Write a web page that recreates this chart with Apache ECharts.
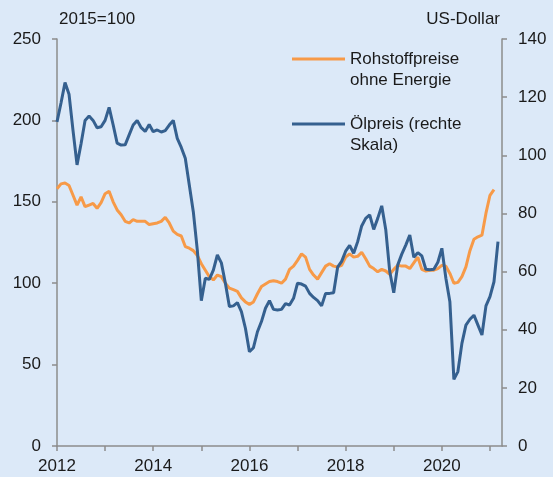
<!DOCTYPE html>
<html>
<head>
<meta charset="utf-8">
<script src="https://cdn.jsdelivr.net/npm/echarts@6/dist/echarts.min.js"></script>
<style>
  html, body { margin: 0; padding: 0; background: #dce9f8; }
  #chart { width: 553px; height: 477px; }
</style>
</head>
<body>
<div id="chart"></div>
<script>
// monthly values from Jan 2012
var startYear = 2012;

// Rohstoffpreise ohne Energie, 2015=100 (Jan 2012 - Feb 2021)
var rohstoffe = [
  158, 161, 161.5, 160, 154, 148, 153, 147, 148, 149, 146, 149.5,
  155, 156.5, 150, 145, 142, 138, 137, 139, 138, 138, 138, 136,
  136.5, 137, 138, 140.5, 137, 132, 130, 129, 122.5, 121.5, 120, 117,
  112, 108, 104, 102, 105, 104, 100, 97, 96, 95, 91, 88.5,
  87, 88.5, 93.5, 98, 99.5, 101, 101.5, 101, 100, 102.5, 108.5, 110.5,
  114, 118, 116, 108.5, 105, 102.5, 106.5, 110.5, 112, 110.5, 110, 111,
  116, 118, 116, 116.5, 119, 115, 110.5, 109, 107, 108.5, 107.5, 105.5,
  108.5, 111, 110.5, 110.5, 109, 112.5, 116, 108.5, 107.5, 108, 108, 109,
  111, 110.5, 106, 100, 100.5, 104, 110, 120, 127, 128.5, 129.5, 143,
  154, 157.5
];

// Oelpreis in US-Dollar (Jan 2012 - Mar 2021)
var oelpreis = [
  111.5, 118, 125, 121, 108.5, 96.7, 104, 112, 113.5, 112, 109.5, 109.8,
  112, 116.5, 110.5, 104.2, 103.5, 103.6, 107, 110.4, 112, 109.5, 108.2, 110.6,
  108.1, 108.7, 108, 108.5, 110.4, 112, 105.8, 102.7, 99, 89.8, 80.6, 67.4,
  50, 57.7, 57.3, 60.5, 65.7, 63, 56, 48, 48.2, 49.3, 46.2, 40.5,
  32.4, 33.8, 39.3, 42.8, 47.4, 50, 47, 46.8, 47, 49, 48.5, 50.8,
  56, 55.7, 55, 52.5, 51.1, 50, 48.2, 52.5, 52.5, 52.7, 61.5, 63.5,
  67, 69, 66.3, 70.3, 75.7, 78.3, 79.5, 74.5, 78.3, 82.6, 74.5, 60,
  52.7, 62.3, 66, 69.1, 72.6, 64.9, 66.5, 65.4, 60.8, 60.6, 60.8, 63.2,
  68, 57.7, 49.6, 22.9, 25.6, 35.3, 41.6, 43.6, 45, 41.6, 38.2, 48.2,
  51.4, 56.5, 70.3
];

var yearTicks = [2012, 2013, 2014, 2015, 2016, 2017, 2018, 2019, 2020, 2021];
var yearLabels = [2012, 2014, 2016, 2018, 2020];

var nameRoh = "Rohstoffpreise\nohne Energie";
var nameOel = "Ölpreis (rechte\nSkala)";

function toPoints(arr) {
  var pts = [];
  for (var i = 0; i < arr.length; i++) {
    pts.push([startYear + i / 12, arr[i]]);
  }
  return pts;
}

var chart = echarts.init(document.getElementById("chart"));

var font = "Liberation Sans";
var axisGrey = "#8c8c8c";

var legendText = {
  fontFamily: font,
  fontSize: 17,
  color: "#1a1a1a",
  lineHeight: 21.5,
};

// empty first line so the sample line sits beside the first text line
function legendFmt(name) {
  return "\n" + name;
}

var option = {
  backgroundColor: "#dce9f8",
  animation: false,
  grid: {
    left: 57,
    right: 51,
    top: 39,
    bottom: 31,
  },
  legend: [
    {
      data: [nameRoh],
      left: 292,
      top: 26.75,
      padding: 0,
      itemWidth: 53,
      itemHeight: 3,
      itemGap: 0,
      icon: "rect",
      formatter: legendFmt,
      textStyle: legendText,
    },
    {
      data: [nameOel],
      left: 292,
      top: 91.75,
      padding: 0,
      itemWidth: 53,
      itemHeight: 3,
      itemGap: 0,
      icon: "rect",
      formatter: legendFmt,
      textStyle: legendText,
    },
  ],
  xAxis: {
    type: "value",
    min: 2012,
    max: 2021.25,
    splitLine: { show: false },
    axisLine: { lineStyle: { color: axisGrey, width: 1.5 } },
    axisTick: {
      length: 5,
      customValues: yearTicks,
      lineStyle: { color: axisGrey, width: 1.5 },
    },
    axisLabel: {
      customValues: yearLabels,
      margin: 12,
      fontFamily: font,
      fontSize: 17,
      color: "#1a1a1a",
      formatter: function (v) { return String(v); },
    },
  },
  yAxis: [
    {
      type: "value",
      min: 0,
      max: 250,
      interval: 50,
      name: "2015=100",
      nameLocation: "end",
      nameGap: 11,
      nameTextStyle: {
        align: "left",
        padding: [0, 0, 0, 2],
        fontFamily: font,
        fontSize: 17,
        color: "#1a1a1a",
      },
      splitLine: { show: false },
      axisLine: { show: true, lineStyle: { color: axisGrey, width: 1.5 } },
      axisTick: { show: true, length: 5, lineStyle: { color: axisGrey, width: 1.5 } },
      axisLabel: {
        margin: 16,
        fontFamily: font,
        fontSize: 17,
        color: "#1a1a1a",
      },
    },
    {
      type: "value",
      min: 0,
      max: 140,
      interval: 20,
      position: "right",
      name: "US-Dollar",
      nameLocation: "end",
      nameGap: 11,
      nameTextStyle: {
        align: "right",
        padding: [0, 2, 0, 0],
        fontFamily: font,
        fontSize: 17,
        color: "#1a1a1a",
      },
      splitLine: { show: false },
      axisLine: { show: true, lineStyle: { color: axisGrey, width: 1.5 } },
      axisTick: { show: true, length: 5, lineStyle: { color: axisGrey, width: 1.5 } },
      axisLabel: {
        margin: 16,
        fontFamily: font,
        fontSize: 17,
        color: "#1a1a1a",
      },
    },
  ],
  series: [
    {
      name: nameRoh,
      type: "line",
      yAxisIndex: 0,
      data: toPoints(rohstoffe),
      showSymbol: false,
      color: "#f79a48",
      lineStyle: { width: 3, color: "#f79a48" },
      z: 2,
    },
    {
      name: nameOel,
      type: "line",
      yAxisIndex: 1,
      data: toPoints(oelpreis),
      showSymbol: false,
      color: "#35608f",
      lineStyle: { width: 3, color: "#35608f" },
      z: 3,
    },
  ],
};

chart.setOption(option);
</script>
</body>
</html>
